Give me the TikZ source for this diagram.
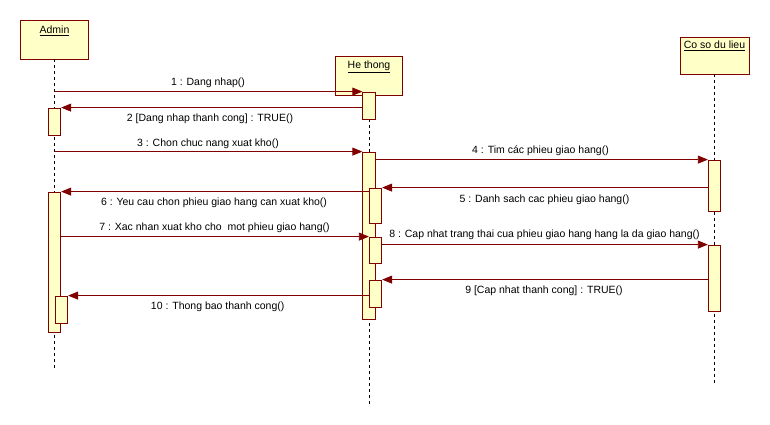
\documentclass[tikz,border=0pt]{standalone}
\usepackage{fontspec}
\setmainfont{Liberation Sans}
\usetikzlibrary{arrows.meta}
\definecolor{umlline}{RGB}{128,0,0}
\definecolor{umlfill}{RGB}{255,255,200}
\tikzset{
  lbl/.style={font=\fontsize{10.5}{12}\selectfont, inner sep=0pt, text=black},
  headbox/.style={draw=umlline, fill=umlfill, line width=0.8pt, inner sep=0pt, minimum width=#1},
  hdtext/.style={font=\fontsize{10.5}{12}\selectfont, inner sep=0pt},
  act/.style={draw=umlline, fill=umlfill, line width=0.8pt, inner sep=0pt, minimum width=12.5pt, minimum height=#1},
  life/.style={draw=black, line width=0.6pt, dash pattern=on 3pt off 3pt},
  msg/.style={draw=umlline, line width=0.8pt, -{Triangle[length=10pt,width=8pt]}}
}
\begin{document}
\begin{tikzpicture}[x=1pt,y=-1pt]
\useasboundingbox (0,0) rectangle (770,425);
% heads
\node[headbox=68pt, minimum height=39pt] (adm) at (54.5,39.5) {};
\node[headbox=67pt, minimum height=39pt] (hts) at (369,75.5) {};
\node[headbox=69pt, minimum height=37pt] (db) at (714.5,55.5) {};
\node[hdtext] (admT) at (54.5,31) {\underline{Admin}};
\node[hdtext] (htsT) at (369,67) {\underline{He thong}};
\node[hdtext] (dbT) at (714.5,46) {\underline{Co so du lieu}};
% lifeline ends
\coordinate (admE) at (54.5,369);
\coordinate (htsE) at (369,405);
\coordinate (dbE) at (714.5,383);
\draw[life] (adm.south) -- (admE);
\draw[life] (hts.south) -- (htsE);
\draw[life] (db.south) -- (dbE);
% activations
\node[act=27pt] (A1) at (54.5,121.5) {};
\node[act=140pt] (A2) at (54.5,262) {};
\node[act=27pt] (A3) at (61.5,309.5) {};
\node[act=27pt] (H1) at (369,105.5) {};
\node[act=167pt] (H2) at (369,235.5) {};
\node[act=35pt] (H3) at (375.5,205.5) {};
\node[act=26pt] (H4) at (375.5,250) {};
\node[act=27pt] (H5) at (375.5,293.5) {};
\node[act=51pt] (C1) at (714.5,185.5) {};
\node[act=66pt] (C2) at (714.5,278) {};
% messages
\draw[msg] (adm |- H1.north) -- (H1.north west);
\draw[msg] (H1.west |- A1.north) -- (A1.north east);
\draw[msg] (adm |- H2.north) -- (H2.north west);
\draw[msg] (H2.east |- C1.north) -- (C1.north west);
\draw[msg] (C1.west |- H3.north) -- (H3.north east);
\draw[msg] (H3.west |- A2.north) -- (A2.north east);
\draw[msg] (A2.east |- H4.north) -- (H4.north west);
\draw[msg] (H4.east |- C2.north) -- (C2.north west);
\draw[msg] (C2.west |- H5.north) -- (H5.north east);
\draw[msg] (H5.west |- A3.north) -- (A3.north east);
% labels
\node[lbl] (m1) at (208,83) {1 : Dang nhap()};
\node[lbl] (m2) at (210,119) {2 [Dang nhap thanh cong] : TRUE()};
\node[lbl] (m3) at (208,143.3) {3 : Chon chuc nang xuat kho()};
\node[lbl] (m4) at (540.5,151) {4 : Tim các phieu giao hang()};
\node[lbl] (m5) at (544.5,199.3) {5 : Danh sach cac phieu giao hang()};
\node[lbl] (m6) at (214,202.7) {6 : Yeu cau chon phieu giao hang can xuat kho()};
\node[lbl] (m7) at (214.5,227.3) {7 : Xac nhan xuat kho cho\ \ mot phieu giao hang()};
\node[lbl] (m8) at (544.5,235) {8 : Cap nhat trang thai cua phieu giao hang hang la da giao hang()};
\node[lbl] (m9) at (544,291) {9 [Cap nhat thanh cong] : TRUE()};
\node[lbl] (m10) at (217.7,306.7) {10 : Thong bao thanh cong()};
\end{tikzpicture}
\end{document}
